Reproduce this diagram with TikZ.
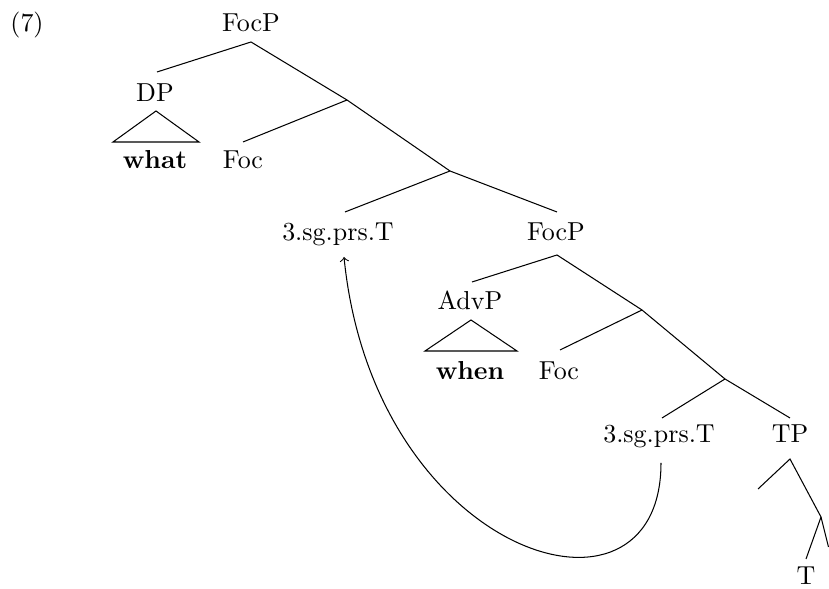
\documentclass[tikz,border=0pt]{standalone}
\usetikzlibrary{calc}
\begin{document}
\begin{tikzpicture}[x=0.385pt,y=-0.385pt,
  lab/.style={anchor=base,inner sep=0pt},
  edge/.style={line width=0.4pt},
  tri/.style={line width=0.4pt},
  mvarrow/.style={->,line width=0.4pt}]
\useasboundingbox (0,0) rectangle (829,589);
% labels
\node[lab] (ex) at (27,32) {(7)};
\node[lab] (focp1) at (251,32) {FocP};
\node[lab] (dp) at (155,102) {DP};
\node[lab] (what) at (155,169) {\textbf{what}};
\node[lab] (foc1) at (243,169) {Foc};
\node[lab] (s1) at (338,241) {3.sg.prs.T};
\node[lab] (focp2) at (556,241) {FocP};
\node[lab] (advp) at (470,310) {AdvP};
\node[lab] (when) at (470,380) {\textbf{when}};
\node[lab] (foc2) at (559,380) {Foc};
\node[lab] (s2) at (659,443) {3.sg.prs.T};
\node[lab] (tp) at (790,443) {TP};
\node[lab] (t) at (806,585) {T};
% branch points and line ends
\coordinate (a1) at (251,42);
\coordinate (dpt) at (157,72);
\coordinate (b1) at (347,100);
\coordinate (foc1t) at (243,142);
\coordinate (b2) at (450,171);
\coordinate (s1t) at (345,212);
\coordinate (focp2t) at (557,212);
\coordinate (a2) at (557,255);
\coordinate (advpt) at (472,282);
\coordinate (b3) at (642,310);
\coordinate (foc2t) at (560,350);
\coordinate (b4) at (725,379);
\coordinate (s2t) at (662,418);
\coordinate (tpt) at (790,418);
\coordinate (a3) at (790,459);
\coordinate (tpl) at (758,489);
\coordinate (b5) at (821,517);
\coordinate (tt) at (806,559);
\coordinate (tr) at (828.5,547);
% tree edges
\draw[edge] (dpt) -- (a1) -- (b1) -- (b2);
\draw[edge] (foc1t) -- (b1);
\draw[edge] (s1t) -- (b2) -- (focp2t);
\draw[edge] (advpt) -- (a2) -- (b3) -- (b4);
\draw[edge] (foc2t) -- (b3);
\draw[edge] (s2t) -- (b4) -- (tpt);
\draw[edge] (tpl) -- (a3) -- (b5) -- (tt);
\draw[edge] (b5) -- (tr);
% triangles
\coordinate (dpa) at (156,111);
\coordinate (dpl) at (113,142);
\coordinate (dpr) at (199,142);
\draw[tri] (dpl) -- (dpa) -- (dpr) -- cycle;
\coordinate (ava) at (471,320);
\coordinate (avl) at (425,351);
\coordinate (avr) at (517,351);
\draw[tri] (avl) -- (ava) -- (avr) -- cycle;
% movement arrow
\coordinate (mvs) at (661,463);
\coordinate (mve) at (344,257);
\draw[mvarrow] (mvs) .. controls (661,645) and (374,557) .. (mve);
\end{tikzpicture}
\end{document}
